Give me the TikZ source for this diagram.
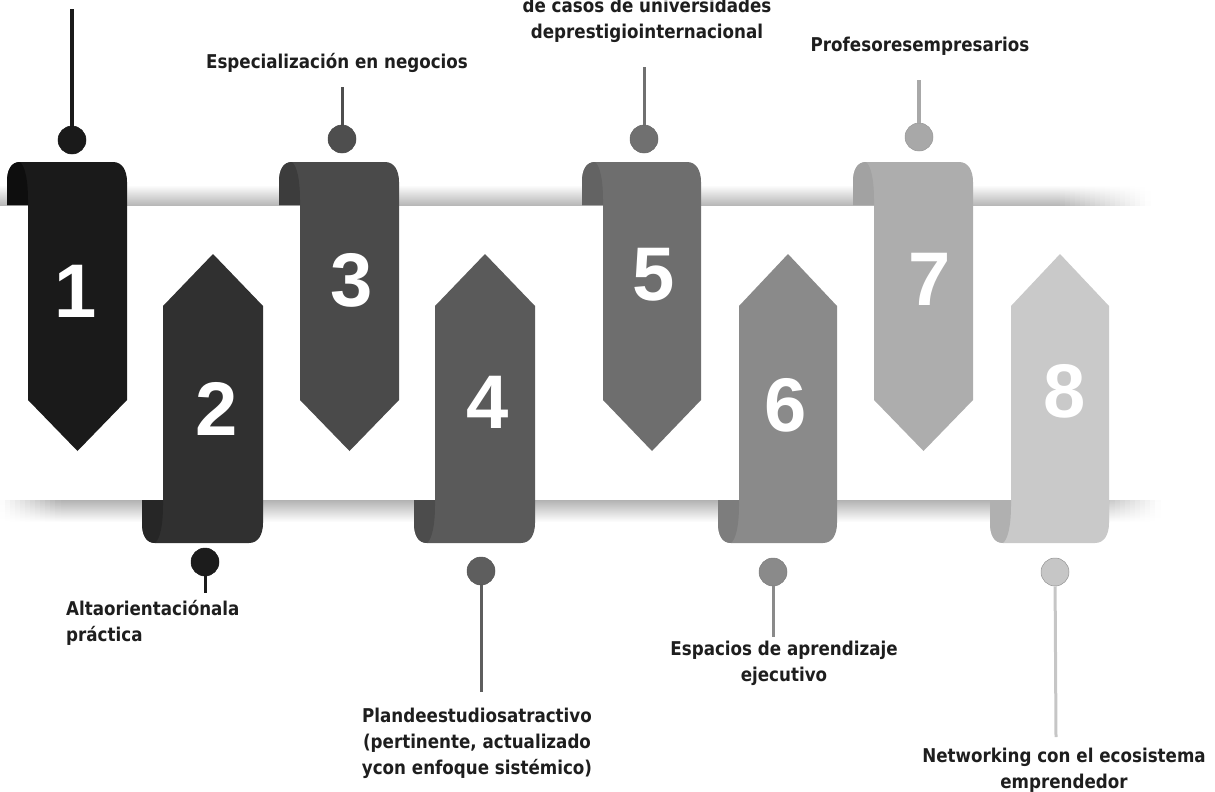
\documentclass[tikz,border=0pt]{standalone}
\usepackage{fontspec}
\newfontfamily\lblfont{DejaVu Sans}[FakeStretch=0.88]
\newfontfamily\numfont{Liberation Sans}
\definecolor{txt}{HTML}{1E1E1E}
\definecolor{bA}{HTML}{1A1A1A}\definecolor{kA}{HTML}{0E0E0E}
\definecolor{bB}{HTML}{303030}\definecolor{kB}{HTML}{262626}
\definecolor{bC}{HTML}{4A4A4A}\definecolor{kC}{HTML}{3C3C3C}
\definecolor{bD}{HTML}{5A5A5A}\definecolor{kD}{HTML}{4C4C4C}
\definecolor{bE}{HTML}{6E6E6E}\definecolor{kE}{HTML}{636363}
\definecolor{bF}{HTML}{8A8A8A}\definecolor{kF}{HTML}{7D7D7D}
\definecolor{bG}{HTML}{ADADAD}\definecolor{kG}{HTML}{A2A2A2}
\definecolor{bH}{HTML}{C9C9C9}\definecolor{kH}{HTML}{B0B0B0}
\definecolor{dA}{HTML}{1A1A1A}\definecolor{dB}{HTML}{1C1C1C}
\definecolor{dC}{HTML}{4E4E4E}\definecolor{dD}{HTML}{5E5E5E}
\definecolor{dE}{HTML}{707070}\definecolor{dF}{HTML}{8A8A8A}
\definecolor{dG}{HTML}{A8A8A8}\definecolor{dH}{HTML}{C6C6C6}
\tikzset{
  dot/.style={circle, minimum size=28pt, inner sep=0pt},
  stemline/.style={line width=3pt},
  num/.style={font=\numfont\bfseries\fontsize{76}{76}\selectfont, text=white, inner sep=0pt},
  lbl/.style={font=\lblfont\bfseries\fontsize{19}{26}\selectfont, text=txt, inner sep=0pt},
}
% down banner: #1 left, #2 right, #3 body colour, #4 curl colour
\newcommand\dbanner[4]{%
  \pgfmathsetmacro\C{#1-21}\pgfmathsetmacro\M{(#1+#2)/2}%
  \fill[#3] (\C,205) -- (\C,182) .. controls (\C,170) and (\C+4,162) .. (\C+13,162)
    -- (#2-14,162) .. controls (#2-5,162) and (#2,170) .. (#2,182)
    -- (#2,400) -- (\M,451) -- (#1,400) -- (#1,205) -- cycle;
  \fill[#4] (\C,205) -- (\C,182) .. controls (\C,170) and (\C+4,162) .. (\C+13,162)
    .. controls (#1-3,166) and (#1,180) .. (#1,200) -- (#1,205) -- cycle;
}
\newcommand\ubanner[4]{%
  \pgfmathsetmacro\C{#1-21}\pgfmathsetmacro\M{(#1+#2)/2}%
  \fill[#3] (\C,500) -- (\C,523) .. controls (\C,535) and (\C+4,543) .. (\C+13,543)
    -- (#2-14,543) .. controls (#2-5,543) and (#2,535) .. (#2,523)
    -- (#2,306) -- (\M,254) -- (#1,306) -- (#1,500) -- cycle;
  \fill[#4] (\C,500) -- (\C,523) .. controls (\C,535) and (\C+4,543) .. (\C+13,543)
    .. controls (#1-3,539) and (#1,525) .. (#1,505) -- (#1,500) -- cycle;
}
\begin{document}
\begin{tikzpicture}[x=1pt,y=-1pt]
\useasboundingbox (0,0) rectangle (1215,792);
\clip (0,0) rectangle (1215,792);
% top band
\shade[top color=white, bottom color=black!28] (0,185) rectangle (1061,205);
\foreach \i in {0,...,17}{
  \pgfmathsetmacro\g{28*(1-(\i+0.5)/18)}
  \shade[top color=white, bottom color=black!\g] (1060+\i*5,185) rectangle (1066+\i*5,205);
}
% bottom band
\shade[top color=black!30, bottom color=white] (59,500) rectangle (1091,522);
\foreach \i in {0,...,11}{
  \pgfmathsetmacro\g{30*(\i+0.5)/12}
  \shade[top color=black!\g, bottom color=white] (\i*5,500) rectangle (\i*5+6,522);
}
\foreach \i in {0,...,13}{
  \pgfmathsetmacro\g{30*(1-(\i+0.5)/14)}
  \shade[top color=black!\g, bottom color=white] (1090+\i*5,500) rectangle (1096+\i*5,522);
}
% banners
\dbanner{28}{127}{bA}{kA}
\ubanner{163}{263}{bB}{kB}
\dbanner{300}{399}{bC}{kC}
\ubanner{435}{535}{bD}{kD}
\dbanner{603}{701}{bE}{kE}
\ubanner{739}{837}{bF}{kF}
\dbanner{874}{973}{bG}{kG}
\ubanner{1011}{1109}{bH}{kH}
% numbers
\node[num] (n1) at (76,291) {1};
\node[num] (n2) at (217,409) {2};
\node[num] (n3) at (352,280) {3};
\node[num] (n4) at (488,402) {4};
\node[num] (n5) at (654,275) {5};
\node[num] (n6) at (786,405) {6};
\node[num] (n7) at (930,279) {7};
\node[num] (n8) at (1065,391) {8};
% dots
\node[dot, fill=dA, draw=dA!90!black, line width=0.5pt] (d1) at (72,140) {};
\node[dot, fill=dB, draw=dB!90!black, line width=0.5pt] (d2) at (205,562) {};
\node[dot, fill=dC, draw=dC!90!black, line width=0.5pt] (d3) at (342,139) {};
\node[dot, fill=dD, draw=dD!90!black, line width=0.5pt] (d4) at (481,571) {};
\node[dot, fill=dE, draw=dE!90!black, line width=0.5pt] (d5) at (644,139) {};
\node[dot, fill=dF, draw=dF!90!black, line width=0.5pt] (d6) at (773,572) {};
\node[dot, fill=dG, draw=dG!90!black, line width=0.5pt] (d7) at (919,137) {};
\node[dot, fill=dH, draw=dH!75!black, line width=0.5pt] (d8) at (1055,572) {};
% stem ends
\coordinate (s1) at (72,9);
\coordinate (s2) at (205,593);
\coordinate (s3) at (342,87);
\coordinate (s4) at (481,692);
\coordinate (s5) at (644,67);
\coordinate (s6) at (773,637);
\coordinate (s7) at (919,80);
\coordinate (s8) at (1056,737);
\draw[stemline, dA, line width=4pt] (d1) -- (s1);
\draw[stemline, dB] (d2) -- (s2);
\draw[stemline, dC] (d3) -- (s3);
\draw[stemline, dD] (d4) -- (s4);
\draw[stemline, dE] (d5) -- (s5);
\draw[stemline, dF] (d6) -- (s6);
\draw[stemline, dG, line width=4pt] (d7) -- (s7);
\draw[stemline, dH] (d8) -- (s8);
% labels
\node[lbl, anchor=base west] (l2) at (66,615) {\begin{tabular}[t]{@{}l@{}}Altaorientaciónala\\práctica\end{tabular}};
\node[lbl, anchor=base] (l3) at (337,68) {Especialización en negocios};
\node[lbl, anchor=base] (l4) at (477,722) {\begin{tabular}[t]{@{}c@{}}Plandeestudiosatractivo\\(pertinente, actualizado\\ycon enfoque sistémico)\end{tabular}};
\node[lbl, anchor=base] (l5) at (647,13) {\begin{tabular}[t]{@{}c@{}}de casos de universidades\\deprestigiointernacional\end{tabular}};
\node[lbl, anchor=base] (l6) at (784,655) {\begin{tabular}[t]{@{}c@{}}Espacios de aprendizaje\\ejecutivo\end{tabular}};
\node[lbl, anchor=base] (l7) at (920,52) {Profesoresempresarios};
\node[lbl, anchor=base] (l8) at (1064,762) {\begin{tabular}[t]{@{}c@{}}Networking con el ecosistema\\emprendedor\end{tabular}};
\end{tikzpicture}
\end{document}
